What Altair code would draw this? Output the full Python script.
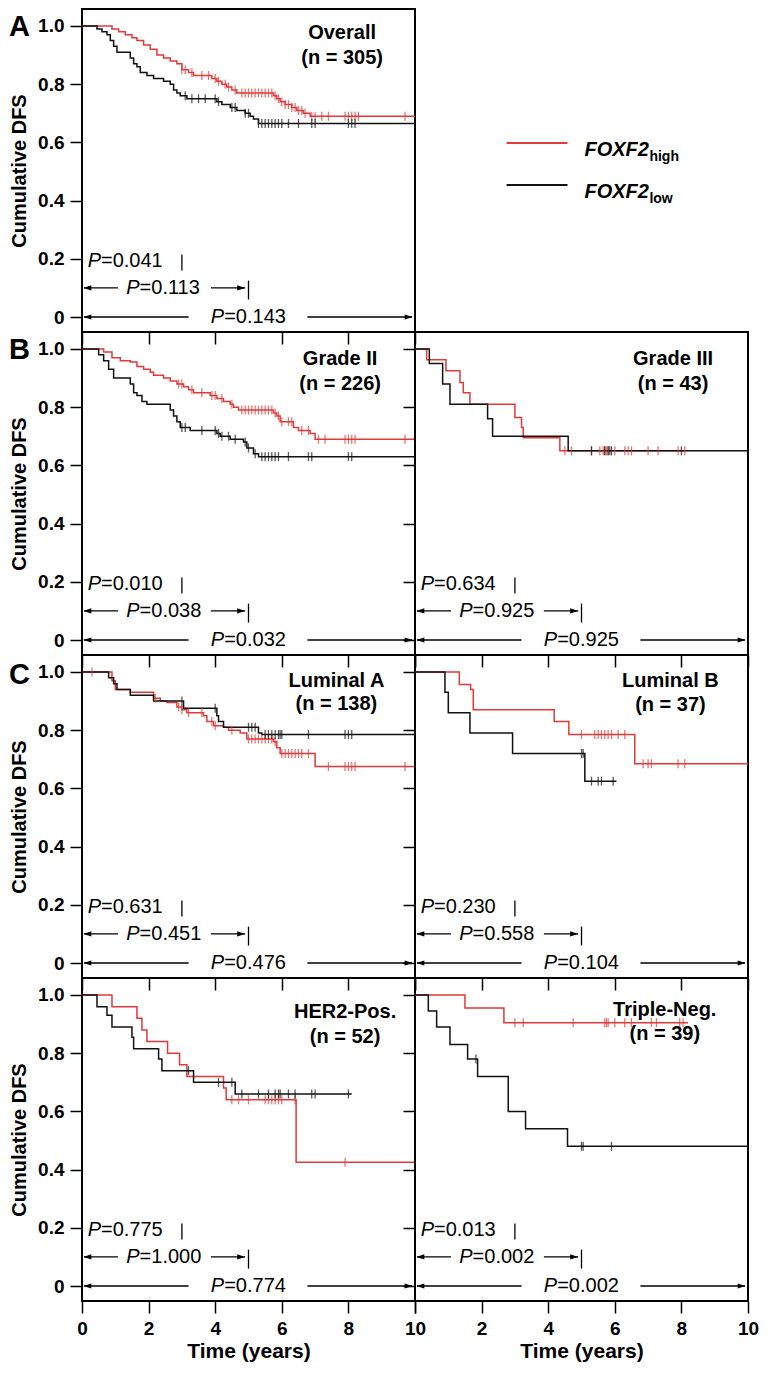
import altair as alt
import pandas as pd

RED = "#e03a3a"
BLACK = "#111111"
FONT = "Liberation Sans"

# ------------------------------------------------------------------ data
# Kaplan-Meier steps: (time in years, cumulative DFS after the step)
overall_high = [(0, 1.0), (0.9, 0.99), (1.1, 0.98), (1.3, 0.97), (1.5, 0.96), (1.65, 0.95), (1.85, 0.935),
                (2.05, 0.92), (2.25, 0.90), (2.45, 0.89), (2.65, 0.88), (2.85, 0.87), (3.0, 0.85), (3.2, 0.84),
                (3.35, 0.83), (3.9, 0.82), (4.05, 0.81), (4.2, 0.80), (4.35, 0.79), (4.5, 0.78), (4.65, 0.77),
                (5.75, 0.76), (5.85, 0.75), (5.95, 0.74), (6.1, 0.73), (6.3, 0.72), (6.45, 0.71), (6.65, 0.70),
                (6.85, 0.69)]
overall_high_end = 10
overall_high_cens = [3.0, 3.1, 3.3, 3.6, 3.8, 4.0, 4.1, 4.3, 4.4, 4.6, 4.8, 4.9, 5.0, 5.1, 5.2, 5.3, 5.4, 5.5,
                     5.6, 5.7, 5.8, 5.9, 6.0, 6.1, 6.2, 6.3, 6.4, 6.5, 6.6, 6.7, 6.9, 7.0, 7.2, 7.4, 7.9, 8.0,
                     8.1, 8.2, 8.3, 9.7]
overall_low = [(0, 1.0), (0.45, 0.99), (0.6, 0.98), (0.75, 0.97), (0.85, 0.95), (0.95, 0.93), (1.05, 0.91),
               (1.45, 0.89), (1.55, 0.87), (1.65, 0.86), (1.75, 0.84), (1.95, 0.83), (2.15, 0.82), (2.45, 0.81),
               (2.65, 0.80), (2.75, 0.78), (2.85, 0.77), (2.95, 0.76), (3.15, 0.75), (4.05, 0.74), (4.2, 0.73),
               (4.45, 0.72), (4.65, 0.71), (4.9, 0.70), (5.05, 0.69), (5.15, 0.68), (5.3, 0.665)]
overall_low_end = 10
overall_low_cens = [3.1, 3.3, 3.5, 3.7, 4.0, 4.1, 4.5, 4.6, 4.9, 5.0, 5.3, 5.4, 5.5, 5.6, 5.7, 5.8, 5.9, 6.0,
                    6.2, 6.5, 6.9, 7.0, 8.0, 8.1, 8.2]

grade2_high = [(0, 1.0), (0.65, 0.99), (0.9, 0.97), (1.15, 0.96), (1.45, 0.955), (1.65, 0.94), (1.85, 0.93),
               (2.05, 0.92), (2.15, 0.91), (2.45, 0.90), (2.65, 0.89), (2.85, 0.88), (3.05, 0.87), (3.2, 0.86),
               (3.35, 0.85), (3.85, 0.84), (4.05, 0.83), (4.25, 0.82), (4.45, 0.81), (4.55, 0.80), (4.7, 0.79),
               (5.75, 0.78), (5.85, 0.77), (5.95, 0.75), (6.35, 0.73), (6.5, 0.72), (6.85, 0.71), (7.0, 0.69)]
grade2_high_end = 10
grade2_high_cens = [2.9, 3.0, 3.3, 3.6, 3.9, 4.0, 4.2, 4.5, 4.8, 4.9, 5.0, 5.1, 5.2, 5.3, 5.4, 5.5, 5.6, 5.7,
                    5.8, 5.9, 6.0, 6.2, 6.3, 6.6, 6.8, 7.1, 7.3, 7.9, 8.0, 8.1, 8.2, 9.7]
grade2_low = [(0, 1.0), (0.5, 0.98), (0.65, 0.96), (0.8, 0.93), (0.95, 0.90), (1.45, 0.88), (1.55, 0.85),
              (1.65, 0.84), (1.8, 0.82), (1.95, 0.81), (2.65, 0.79), (2.75, 0.77), (2.85, 0.75), (2.95, 0.73),
              (3.25, 0.72), (4.05, 0.71), (4.15, 0.70), (4.45, 0.69), (4.85, 0.68), (4.95, 0.66), (5.15, 0.64),
              (5.3, 0.63)]
grade2_low_end = 10
grade2_low_cens = [3.0, 3.1, 3.6, 4.0, 4.1, 4.2, 4.4, 4.6, 4.9, 5.0, 5.2, 5.4, 5.5, 5.6, 5.7, 5.8, 5.9, 6.2,
                   6.8, 6.9, 8.0, 8.1]

grade3_high = [(0, 1.0), (0.35, 0.963), (0.93, 0.925), (1.35, 0.885), (1.45, 0.85), (1.65, 0.81), (3.0, 0.765),
               (3.2, 0.73), (3.25, 0.695), (4.35, 0.65)]
grade3_high_end = 8.15
grade3_high_cens = [4.5, 4.7, 5.3, 5.55, 5.65, 5.7, 5.75, 5.8, 6.0, 6.3, 6.4, 6.5, 7.0, 7.3, 7.9, 8.1]
grade3_low = [(0, 1.0), (0.43, 0.95), (0.83, 0.88), (1.05, 0.81), (2.18, 0.76), (2.33, 0.70), (4.6, 0.65)]
grade3_low_end = 10
grade3_low_cens = [5.3, 5.7, 5.8, 5.85, 5.9, 8.0]

luma_high = [(0, 1.0), (0.9, 0.97), (1.0, 0.94), (1.45, 0.93), (2.15, 0.91), (2.35, 0.90), (2.55, 0.895),
             (2.85, 0.88), (3.0, 0.87), (3.15, 0.86), (3.65, 0.85), (3.75, 0.83), (3.95, 0.815), (4.25, 0.81),
             (4.4, 0.80), (4.75, 0.79), (4.95, 0.77), (5.75, 0.76), (5.85, 0.74), (5.95, 0.72), (7.0, 0.675)]
luma_high_end = 10
luma_high_cens = [0.3, 2.2, 2.9, 3.0, 3.2, 3.6, 3.9, 4.0, 4.5, 5.0, 5.1, 5.2, 5.3, 5.4, 5.5, 5.6, 5.7, 5.8,
                  6.0, 6.1, 6.2, 6.3, 6.4, 6.5, 6.6, 6.8, 7.4, 7.9, 8.0, 8.1, 8.2, 9.7]
luma_low = [(0, 1.0), (0.8, 0.98), (0.95, 0.96), (1.05, 0.94), (1.45, 0.92), (2.15, 0.90), (3.05, 0.875),
            (4.05, 0.85), (4.1, 0.83), (4.25, 0.81), (5.3, 0.79), (5.4, 0.785)]
luma_low_end = 10
luma_low_cens = [3.0, 4.0, 5.0, 5.1, 5.2, 5.5, 5.6, 5.7, 5.8, 5.9, 5.95, 6.0, 6.8, 7.9, 8.0, 8.1]

lumb_high = [(0, 1.0), (1.33, 0.957), (1.67, 0.94), (1.75, 0.87), (4.18, 0.83), (4.62, 0.785), (6.6, 0.685)]
lumb_high_end = 10
lumb_high_cens = [5.0, 5.4, 5.5, 5.6, 5.7, 5.8, 5.9, 6.1, 6.3, 6.85, 7.0, 7.1, 7.9, 8.1]
lumb_low = [(0, 1.0), (0.9, 0.93), (1.0, 0.86), (1.65, 0.79), (2.93, 0.72), (5.1, 0.625)]
lumb_low_end = 6.05
lumb_low_cens = [5.0, 5.05, 5.3, 5.5, 5.6, 5.95]

her2_high = [(0, 1.0), (0.9, 0.96), (1.65, 0.92), (1.8, 0.88), (1.95, 0.84), (2.57, 0.80), (2.93, 0.76),
             (3.15, 0.72), (4.25, 0.68), (4.33, 0.64), (6.43, 0.425)]
her2_high_end = 10
her2_high_cens = [4.5, 4.7, 5.0, 5.5, 5.6, 5.7, 5.8, 5.9, 6.0, 6.4, 7.9]
her2_low = [(0, 1.0), (0.45, 0.96), (0.75, 0.93), (0.9, 0.89), (1.5, 0.855), (1.55, 0.815), (2.3, 0.78),
            (2.4, 0.74), (3.35, 0.70), (4.6, 0.66)]
her2_low_end = 8.1
her2_low_cens = [3.2, 4.1, 4.5, 4.8, 5.3, 5.6, 5.8, 5.9, 5.95, 6.2, 6.4, 6.9, 7.0, 8.0]

tneg_high = [(0, 1.0), (1.5, 0.955), (2.67, 0.905)]
tneg_high_end = 8.2
tneg_high_cens = [3.0, 3.25, 4.75, 5.7, 5.75, 5.8, 6.0, 6.3, 6.5, 7.1, 7.25, 7.95, 8.05]
tneg_low = [(0, 1.0), (0.4, 0.945), (0.65, 0.89), (1.05, 0.83), (1.58, 0.78), (1.88, 0.72), (2.8, 0.60),
            (3.32, 0.54), (4.58, 0.48)]
tneg_low_end = 10
tneg_low_cens = [1.83, 5.0, 5.05, 5.9]

panel_names = ["Overall", "Grade II", "Grade III", "Luminal A", "Luminal B", "HER2-Pos.", "Triple-Neg."]
panel_n = ["(n = 305)", "(n = 226)", "(n = 43)", "(n = 138)", "(n = 37)", "(n = 52)", "(n = 39)"]
p_values = [["0.041", "0.113", "0.143"], ["0.010", "0.038", "0.032"], ["0.634", "0.925", "0.925"],
            ["0.631", "0.451", "0.476"], ["0.230", "0.558", "0.104"], ["0.775", "1.000", "0.774"],
            ["0.013", "0.002", "0.002"]]
legend_labels = ["FOXF2", "FOXF2"]
legend_subs = ["high", "low"]
x_ticks = [0, 2, 4, 6, 8, 10]
y_ticks = [0, 0.2, 0.4, 0.6, 0.8, 1.0]

# ------------------------------------------------------------------ layout (data space)
W, H = 333, 323
XDOM = [0, 10]
YDOM = [-0.0515, 1.0584]
title_pos = [(7.81, 0.976, 0.89), (7.75, 0.966, 0.88), (7.75, 0.966, 0.88), (7.64, 0.97, 0.89),
             (7.67, 0.97, 0.887), (7.9, 0.94, 0.855), (7.5, 0.95, 0.866)]
letters = {0: ("A", 4), 1: ("B", 4), 3: ("C", 6)}

xs = alt.Scale(domain=XDOM, nice=False, zero=False)
ys = alt.Scale(domain=YDOM, nice=False, zero=False)


def step_at(steps, t):
    v = steps[0][1]
    for tt, s in steps:
        if tt <= t:
            v = s
    return v


def yaxis(show):
    kw = dict(values=y_ticks, tickSize=12, tickWidth=1.5, tickColor="black", domain=False, grid=False,
              labels=show, labelFont=FONT, labelFontSize=19, labelFontWeight="bold", labelColor="black",
              labelPadding=6, labelExpr="datum.value == 0 ? '0' : format(datum.value, '.1f')")
    if show:
        kw.update(title="Cumulative DFS", titleFont=FONT, titleFontSize=20, titleFontWeight="bold",
                  titleColor="black", titlePadding=8)
    else:
        kw.update(title=None)
    return alt.Axis(**kw)


def xaxis(show, hide_zero=False):
    kw = dict(values=x_ticks, tickSize=12, tickWidth=1.5, tickColor="black", domain=False, grid=False,
              labels=show, labelFont=FONT, labelFontSize=19, labelFontWeight="bold", labelColor="black",
              labelPadding=6, labelFlush=False)
    if hide_zero:
        kw.update(labelExpr="datum.value == 0 ? '' : datum.label")
    if show:
        kw.update(title="Time (years)", titleFont=FONT, titleFontSize=21, titleFontWeight="bold",
                  titleColor="black", titlePadding=2)
    else:
        kw.update(title=None)
    return alt.Axis(**kw)


def panel(i, high, high_end, high_cens, low, low_end, low_cens, show_y, show_x, hide_x0=False):
    curve_rows, cens_rows = [], []
    for g, steps, end, cens in (("high", high, high_end, high_cens), ("low", low, low_end, low_cens)):
        for t, s in steps:
            curve_rows.append(dict(x=t, y=s, g=g))
        curve_rows.append(dict(x=end, y=steps[-1][1], g=g))
        for c in cens:
            cens_rows.append(dict(x=c, y=step_at(steps, c), g=g))
    curves = pd.DataFrame(curve_rows)
    cens = pd.DataFrame(cens_rows)
    color = alt.Color("g:N", scale=alt.Scale(domain=["high", "low"], range=[RED, BLACK]), legend=None)

    X = alt.X("x:Q", scale=xs, axis=xaxis(show_x, hide_x0))
    Y = alt.Y("y:Q", scale=ys, axis=yaxis(show_y))

    lines = alt.Chart(curves).mark_line(interpolate="step-after", strokeWidth=1.5).encode(
        x=X, y=Y, color=color, detail="g:N")
    ticks = alt.Chart(cens).mark_tick(orient="vertical", size=9, thickness=1.3).encode(
        x="x:Q", y="y:Q", color=color)

    tx, ty1, ty2 = title_pos[i]
    tdf = pd.DataFrame([dict(x=tx, y=ty1, t=panel_names[i]), dict(x=tx, y=ty2, t=panel_n[i])])
    titles = alt.Chart(tdf).mark_text(font=FONT, fontSize=20, fontWeight="bold", color="black",
                                      align="center", baseline="middle").encode(x="x:Q", y="y:Q", text="t:N")

    pv = p_values[i]
    pdf = pd.DataFrame([dict(x=0.57, y=0.193, v="=" + pv[0]),
                        dict(x=1.73, y=0.10, v="=" + pv[1]),
                        dict(x=4.27, y=0.0, v="=" + pv[2])])
    p_it = alt.Chart(pdf).mark_text(font=FONT, fontSize=20, fontStyle="italic", color="black",
                                    align="right", baseline="middle", text="P").encode(x="x:Q", y="y:Q")
    p_val = alt.Chart(pdf).mark_text(font=FONT, fontSize=20, color="black", align="left",
                                     baseline="middle").encode(x="x:Q", y="y:Q", text="v:N")

    rdf = pd.DataFrame([dict(x=3.0, x2=3.0, y=0.16, y2=0.215),
                        dict(x=5.0, x2=5.0, y=0.06, y2=0.125),
                        dict(x=0.06, x2=1.08, y=0.10, y2=0.10),
                        dict(x=3.87, x2=4.9, y=0.10, y2=0.10),
                        dict(x=0.06, x2=3.2, y=0.0, y2=0.0),
                        dict(x=6.77, x2=9.91, y=0.0, y2=0.0)])
    rules = alt.Chart(rdf).mark_rule(color="black", strokeWidth=1.3).encode(
        x="x:Q", x2="x2:Q", y="y:Q", y2="y2:Q")
    ldf = pd.DataFrame([dict(x=0.04, y=0.10), dict(x=0.04, y=0.0)])
    rhd = pd.DataFrame([dict(x=4.9, y=0.10), dict(x=9.93, y=0.0)])
    lheads = alt.Chart(ldf).mark_point(shape="M0,0L1,-0.32L1,0.32Z", size=256, filled=True,
                                       color="black", opacity=1, strokeWidth=0).encode(x="x:Q", y="y:Q")
    rheads = alt.Chart(rhd).mark_point(shape="M0,0L-1,-0.32L-1,0.32Z", size=256, filled=True,
                                       color="black", opacity=1, strokeWidth=0).encode(x="x:Q", y="y:Q")

    layers = [lines, ticks, titles, p_it, p_val, rules, lheads, rheads]
    if i in letters:
        lt, ly = letters[i]
        letter = alt.Chart(pd.DataFrame([dict(t=lt)])).mark_text(
            font=FONT, fontSize=29, fontWeight="bold", color="black", align="left",
            baseline="top").encode(x=alt.value(-73), y=alt.value(ly), text="t:N")
        layers.append(letter)
    return alt.layer(*layers).properties(
        width=W, height=H, view=alt.ViewBackground(stroke="black", strokeWidth=2))


# legend cell
leg_df = pd.DataFrame([dict(x0=2.75, x1=4.58, y=0.598, g="high", lab=legend_labels[0], sub=legend_subs[0]),
                       dict(x0=2.75, x1=4.58, y=0.454, g="low", lab=legend_labels[1], sub=legend_subs[1])])
lcolor = alt.Color("g:N", scale=alt.Scale(domain=["high", "low"], range=[RED, BLACK]), legend=None)
leg_lines = alt.Chart(leg_df).mark_rule(strokeWidth=2).encode(
    x=alt.X("x0:Q", scale=xs, axis=None), x2="x1:Q", y=alt.Y("y:Q", scale=ys, axis=None), color=lcolor)
leg_txt = alt.Chart(leg_df).transform_calculate(tx="5.09").mark_text(
    font=FONT, fontSize=20, fontWeight="bold", fontStyle="italic", color="black", align="left",
    baseline="alphabetic", dy=13).encode(x=alt.X("tx:Q", axis=None), y=alt.Y("y:Q", axis=None), text="lab:N")
leg_sub = alt.Chart(leg_df).transform_calculate(tx="7.04").mark_text(
    font=FONT, fontSize=14, fontWeight="bold", color="black", align="left",
    baseline="alphabetic", dy=18).encode(x=alt.X("tx:Q", axis=None), y=alt.Y("y:Q", axis=None), text="sub:N")
legend = alt.layer(leg_lines, leg_txt, leg_sub).properties(
    width=W, height=H, view=alt.ViewBackground(stroke="transparent", strokeWidth=0))

cells = [
    panel(0, overall_high, overall_high_end, overall_high_cens, overall_low, overall_low_end, overall_low_cens,
          True, False),
    legend,
    panel(1, grade2_high, grade2_high_end, grade2_high_cens, grade2_low, grade2_low_end, grade2_low_cens,
          True, False),
    panel(2, grade3_high, grade3_high_end, grade3_high_cens, grade3_low, grade3_low_end, grade3_low_cens,
          False, False),
    panel(3, luma_high, luma_high_end, luma_high_cens, luma_low, luma_low_end, luma_low_cens, True, False),
    panel(4, lumb_high, lumb_high_end, lumb_high_cens, lumb_low, lumb_low_end, lumb_low_cens, False, False),
    panel(5, her2_high, her2_high_end, her2_high_cens, her2_low, her2_low_end, her2_low_cens, True, True),
    panel(6, tneg_high, tneg_high_end, tneg_high_cens, tneg_low, tneg_low_end, tneg_low_cens, False, True,
          hide_x0=True),
]

chart = alt.concat(*cells, columns=2, spacing=0, bounds="flush",
                   padding={"left": 0, "top": 0, "right": 0, "bottom": 0}).configure(background="white")

chart.save("out.html", embed_options={"renderer": "svg", "actions": False})
